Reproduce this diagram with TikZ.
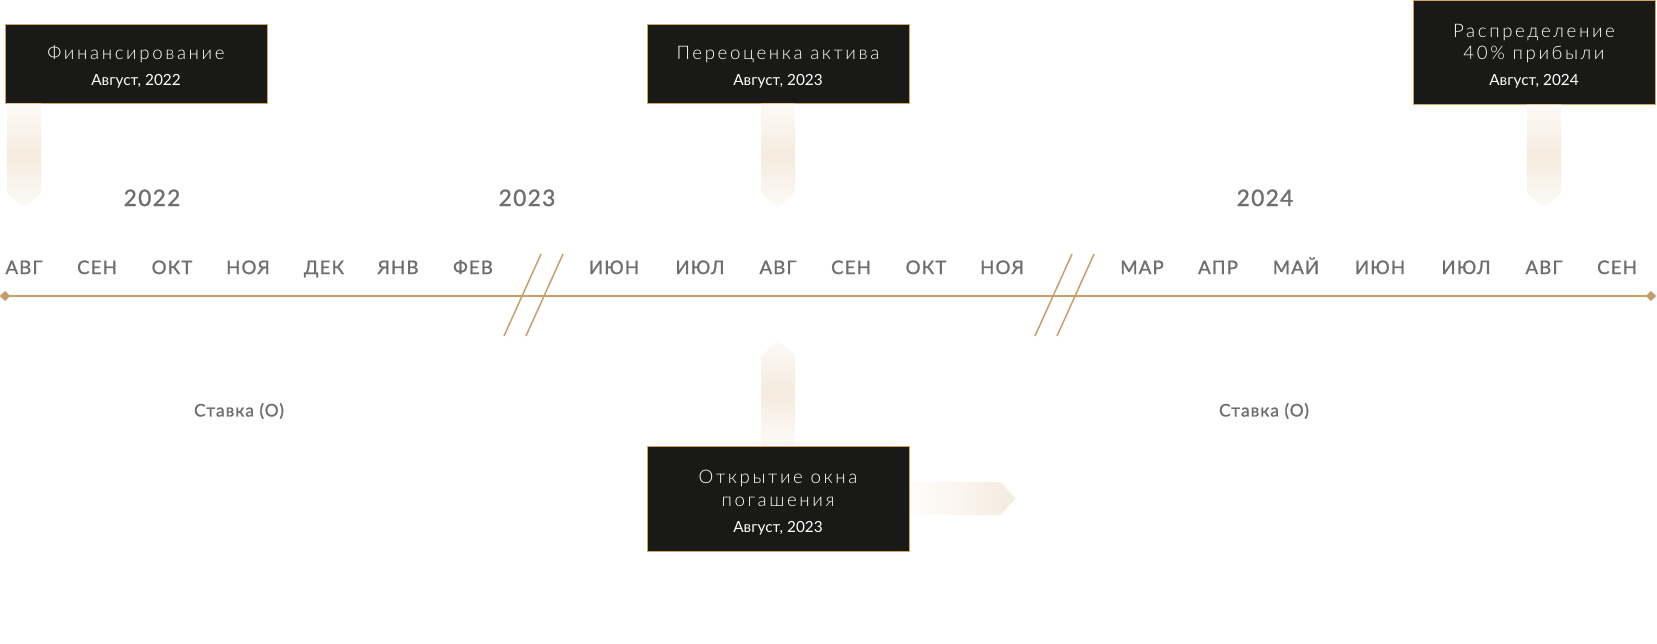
\documentclass[tikz,border=0pt]{standalone}
\usepackage{fontspec}
\setmainfont{Lato}
\newfontfamily\titlefont[LetterSpace=14]{Lato Light}
\newfontfamily\monthfont[LetterSpace=6,FakeBold=1.2]{Lato}
\usetikzlibrary{shapes.geometric,calc}

\definecolor{gold}{RGB}{200,158,104}
\definecolor{boxedge}{RGB}{214,164,96}
\definecolor{boxfill}{RGB}{25,25,23}
\definecolor{monthgray}{RGB}{110,110,110}
\definecolor{tail}{RGB}{245,235,222}

\newcommand\evtitle[1]{{\titlefont\fontsize{14}{17}\selectfont #1}}
\newcommand\evtop{\rule{0pt}{16pt}}

\tikzset{
  evbox/.style={draw=boxedge, fill=boxfill, line width=0.75pt, text=white,
    align=center, inner sep=0pt, minimum width=196.5pt, minimum height=59.25pt,
    font=\fontsize{11.5}{17}\selectfont},
  month/.style={text=monthgray, anchor=base, font=\monthfont\fontsize{14}{16}\selectfont},
  yearlbl/.style={text=monthgray, anchor=base, font=\monthfont\fontsize{17}{20}\selectfont},
  ratelbl/.style={text=monthgray, font=\monthfont\fontsize{13}{15}\selectfont},
  tline/.style={draw=gold, line width=1.5pt},
  brk/.style={draw=gold, line width=1.1pt},
  tip/.style={diamond, fill=gold, inner sep=0pt, minimum size=8pt},
  tail down/.style={top color=tail!25, bottom color=tail!20, middle color=tail},
}

\begin{document}
\begin{tikzpicture}[x=0.75pt,y=-0.75pt]
\useasboundingbox (0,0) rectangle (1657,643);

% time axis
\node[tip] (t0) at (5,296) {};
\node[tip] (t1) at (1651,296) {};
\draw[tline] (t0.center) -- (t1.center);
\foreach \c in {533.5,1064.5}{
  \coordinate (gap) at (\c,295);
  \draw[brk] ($(gap)+(-29.5,41)$) -- ($(gap)+(7.5,-41)$);
  \draw[brk] ($(gap)+(-7.5,41)$) -- ($(gap)+(29.5,-41)$);
}

% months
\foreach \x/\m [count=\i] in {24/АВГ,97/СЕН,172/ОКТ,248/НОЯ,324/ДЕК,398/ЯНВ,473/ФЕВ,
    614/ИЮН,700/ИЮЛ,778/АВГ,851/СЕН,926/ОКТ,1002/НОЯ,
    1142/МАР,1218/АПР,1296/МАЙ,1380/ИЮН,1466/ИЮЛ,1544/АВГ,1617/СЕН}
  \node[month] (m\i) at (\x,274) {\m};

% years
\node[yearlbl] (y22) at (152,206) {2022};
\node[yearlbl] (y23) at (527,206) {2023};
\node[yearlbl] (y24) at (1265,206) {2024};

% events
\node[evbox] (fin) at (136,63.5) {\evtop\evtitle{Финансирование}\\[2.5pt]Август, 2022};
\node[evbox] (reval) at (778,63.5) {\evtop\evtitle{Переоценка актива}\\[2.5pt]Август, 2023};
\node[evbox, minimum width=181.5pt, minimum height=78pt] (dist) at (1534,52) {\evtop\evtitle{Распределение}\\\evtitle{40\% прибыли}\\[2.5pt]Август, 2024};
\node[evbox, minimum height=78.75pt] (window) at (778,498.5) {\evtop\evtitle{Открытие окна}\\\evtitle{погашения}\\[2.5pt]Август, 2023};

% pointers
\shade[tail down] ($(fin.south -| m1)+(-17,0)$) -- ++(34,0) -- ++(0,89) -- ++(-17,16) -- ++(-17,-16) -- cycle;
\shade[tail down] ($(reval.south -| m10)+(-17,0)$) -- ++(34,0) -- ++(0,89) -- ++(-17,16) -- ++(-17,-16) -- cycle;
\shade[tail down] ($(dist.south -| m19)+(-17,0)$) -- ++(34,0) -- ++(0,88) -- ++(-17,16) -- ++(-17,-16) -- cycle;
\shade[tail down] ($(window.north -| m10)+(-17,0)$) -- ++(0,-89) -- ++(17,-17) -- ++(17,17) -- ++(0,89) -- cycle;
\shade[left color=tail!10, right color=tail] ($(window.east)+(1,-16.5)$) -- ++(90,0) -- ++(15,16.5) -- ++(-15,16.5) -- ++(-90,0) -- cycle;

% rates
\node[ratelbl] (r1) at (239,411) {Ставка (О)};
\node[ratelbl] (r2) at (1264,411) {Ставка (О)};
\end{tikzpicture}
\end{document}
